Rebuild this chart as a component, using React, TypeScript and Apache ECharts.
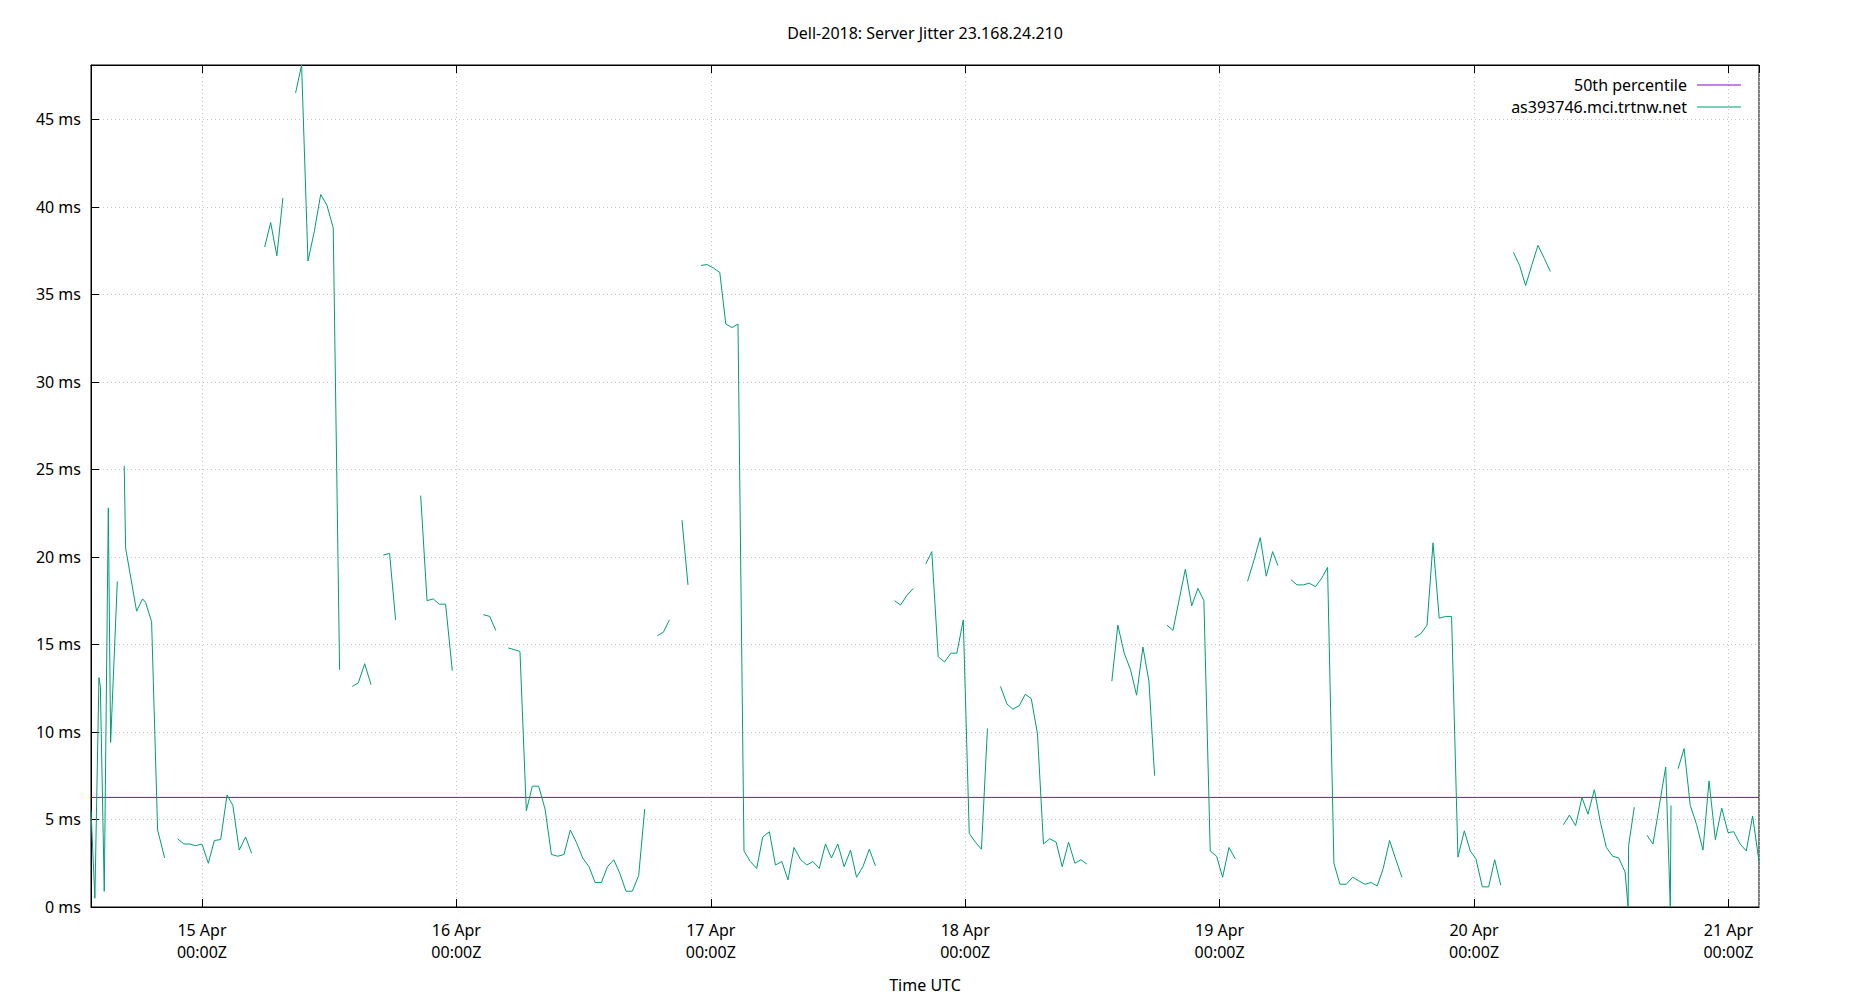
import React, { useEffect, useRef } from "react";
import * as echarts from "echarts";

const FONT = "Noto Sans";
const chartTitle = "Dell-2018: Server Jitter 23.168.24.210";
const xAxisTitle = "Time UTC";
const medianName = "50th percentile";
const hostName = "as393746.mci.trtnw.net";
const medianMs = 6.26;
const yStepMs = 5;
const yearPrefix = "2025-";
const monthNames = ["Jan", "Feb", "Mar", "Apr", "May", "Jun", "Jul", "Aug", "Sep", "Oct", "Nov", "Dec"];

// [time "MM-DD HH:mm" UTC, jitter ms] ; null = no data (line break)
const samples14Apr: [string, number | null][] = [
  ["04-14 13:32", 5.5], ["04-14 13:54", 0.5], ["04-14 14:17", 13.1], ["04-14 14:25", 12.6],
  ["04-14 14:47", 0.9], ["04-14 15:10", 22.8], ["04-14 15:23", 9.4], ["04-14 16:01", 18.6],
  ["04-14 16:20", null],
  ["04-14 16:40", 25.2], ["04-14 16:48", 20.5], ["04-14 17:50", 16.9], ["04-14 18:24", 17.6],
  ["04-14 18:41", 17.4], ["04-14 19:15", 16.3], ["04-14 19:49", 4.4], ["04-14 20:29", 2.8],
  ["04-14 21:05", null],
  ["04-14 21:42", 3.9], ["04-14 22:18", 3.6], ["04-14 22:52", 3.6], ["04-14 23:24", 3.5],
];

const samples15Apr: [string, number | null][] = [
  ["04-15 00:00", 3.6], ["04-15 00:36", 2.5], ["04-15 01:10", 3.8], ["04-15 01:46", 3.85],
  ["04-15 02:22", 6.4], ["04-15 02:55", 5.8], ["04-15 03:31", 3.25], ["04-15 04:07", 4.0],
  ["04-15 04:41", 3.07],
  ["04-15 05:18", null],
  ["04-15 05:55", 37.7], ["04-15 06:29", 39.1], ["04-15 07:04", 37.2], ["04-15 07:38", 40.5],
  ["04-15 08:14", null],
  ["04-15 08:50", 46.5], ["04-15 09:24", 48.1], ["04-15 10:00", 36.9], ["04-15 10:36", 38.6],
  ["04-15 11:12", 40.7], ["04-15 11:47", 40.1], ["04-15 12:23", 38.8], ["04-15 12:59", 13.55],
  ["04-15 13:35", null],
  ["04-15 14:11", 12.6], ["04-15 14:45", 12.8], ["04-15 15:21", 13.9], ["04-15 15:57", 12.7],
  ["04-15 16:31", null],
  ["04-15 17:06", 20.1], ["04-15 17:42", 20.2], ["04-15 18:16", 16.4],
  ["04-15 19:30", null],
  ["04-15 20:38", 23.5], ["04-15 21:14", 17.5], ["04-15 21:49", 17.6], ["04-15 22:23", 17.3],
  ["04-15 22:59", 17.3], ["04-15 23:37", 13.5],
];

const samples16Apr: [string, number | null][] = [
  ["04-16 01:00", null],
  ["04-16 02:33", 16.7], ["04-16 03:09", 16.6], ["04-16 03:43", 15.8],
  ["04-16 04:18", null],
  ["04-16 04:54", 14.8], ["04-16 05:28", 14.7], ["04-16 06:00", 14.6], ["04-16 06:36", 5.5],
  ["04-16 07:10", 6.9], ["04-16 07:46", 6.9], ["04-16 08:22", 5.6], ["04-16 08:58", 3.0],
  ["04-16 09:34", 2.9], ["04-16 10:09", 3.0], ["04-16 10:45", 4.4], ["04-16 11:19", 3.7],
  ["04-16 11:55", 2.8], ["04-16 12:31", 2.3], ["04-16 13:05", 1.4], ["04-16 13:41", 1.4],
  ["04-16 14:15", 2.3], ["04-16 14:51", 2.7], ["04-16 15:26", 1.9], ["04-16 16:00", 0.9],
  ["04-16 16:36", 0.9], ["04-16 17:12", 1.8], ["04-16 17:46", 5.6],
  ["04-16 18:22", null],
  ["04-16 18:58", 15.5], ["04-16 19:32", 15.7], ["04-16 20:06", 16.4],
  ["04-16 20:41", null],
  ["04-16 21:17", 22.1], ["04-16 21:51", 18.4],
  ["04-16 22:28", null],
  ["04-16 23:05", 36.65], ["04-16 23:39", 36.7],
];

const samples17Apr: [string, number | null][] = [
  ["04-17 00:15", 36.5], ["04-17 00:51", 36.25], ["04-17 01:25", 33.3], ["04-17 02:00", 33.1],
  ["04-17 02:34", 33.3], ["04-17 03:08", 3.2], ["04-17 03:44", 2.6], ["04-17 04:20", 2.2],
  ["04-17 04:54", 4.0], ["04-17 05:32", 4.3], ["04-17 06:06", 2.4], ["04-17 06:42", 2.6],
  ["04-17 07:17", 1.55], ["04-17 07:51", 3.4], ["04-17 08:29", 2.7], ["04-17 09:04", 2.4],
  ["04-17 09:38", 2.6], ["04-17 10:14", 2.2], ["04-17 10:49", 3.6], ["04-17 11:23", 2.8],
  ["04-17 11:59", 3.6], ["04-17 12:35", 2.3], ["04-17 13:11", 3.25], ["04-17 13:45", 1.7],
  ["04-17 14:21", 2.3], ["04-17 14:57", 3.3], ["04-17 15:32", 2.35],
  ["04-17 16:30", null],
  ["04-17 17:20", 17.5], ["04-17 17:54", 17.25], ["04-17 18:30", 17.8], ["04-17 19:06", 18.2],
  ["04-17 19:41", null],
  ["04-17 20:17", 19.6], ["04-17 20:51", 20.3], ["04-17 21:27", 14.3], ["04-17 22:03", 14.0],
  ["04-17 22:39", 14.5], ["04-17 23:13", 14.5], ["04-17 23:49", 16.4],
];

const samples18Apr: [string, number | null][] = [
  ["04-18 00:23", 4.2], ["04-18 00:58", 3.7], ["04-18 01:32", 3.3], ["04-18 02:06", 10.2],
  ["04-18 02:43", null],
  ["04-18 03:20", 12.6], ["04-18 03:56", 11.6], ["04-18 04:30", 11.3], ["04-18 05:06", 11.5],
  ["04-18 05:40", 12.15], ["04-18 06:14", 11.9], ["04-18 06:49", 9.9], ["04-18 07:23", 3.6],
  ["04-18 07:59", 3.9], ["04-18 08:35", 3.7], ["04-18 09:09", 2.3], ["04-18 09:45", 3.7],
  ["04-18 10:21", 2.5], ["04-18 10:55", 2.7], ["04-18 11:29", 2.45],
  ["04-18 12:40", null],
  ["04-18 13:50", 12.9], ["04-18 14:24", 16.1], ["04-18 15:00", 14.5], ["04-18 15:36", 13.55],
  ["04-18 16:10", 12.1], ["04-18 16:46", 14.85], ["04-18 17:20", 12.9], ["04-18 17:52", 7.5],
  ["04-18 18:27", null],
  ["04-18 19:02", 16.1], ["04-18 19:36", 15.8], ["04-18 20:12", 17.6], ["04-18 20:46", 19.3],
  ["04-18 21:22", 17.2], ["04-18 21:57", 18.2], ["04-18 22:31", 17.5], ["04-18 23:07", 3.2],
  ["04-18 23:43", 2.9],
];

const samples19Apr: [string, number | null][] = [
  ["04-19 00:17", 1.7], ["04-19 00:53", 3.4], ["04-19 01:29", 2.75],
  ["04-19 02:03", null],
  ["04-19 02:38", 18.6], ["04-19 03:14", 19.8], ["04-19 03:50", 21.1], ["04-19 04:24", 18.9],
  ["04-19 05:00", 20.3], ["04-19 05:30", 19.5],
  ["04-19 06:07", null],
  ["04-19 06:44", 18.7], ["04-19 07:18", 18.4], ["04-19 07:54", 18.4], ["04-19 08:27", 18.5],
  ["04-19 09:03", 18.3], ["04-19 09:39", 18.8], ["04-19 10:11", 19.4], ["04-19 10:47", 2.5],
  ["04-19 11:21", 1.3], ["04-19 11:57", 1.3], ["04-19 12:33", 1.7], ["04-19 13:07", 1.5],
  ["04-19 13:43", 1.3], ["04-19 14:17", 1.4], ["04-19 14:52", 1.2], ["04-19 15:26", 2.2],
  ["04-19 16:02", 3.8], ["04-19 16:38", 2.7], ["04-19 17:12", 1.7],
  ["04-19 17:48", null],
  ["04-19 18:24", 15.4], ["04-19 18:58", 15.6], ["04-19 19:34", 16.1], ["04-19 20:08", 20.8],
  ["04-19 20:43", 16.5], ["04-19 21:19", 16.6], ["04-19 21:53", 16.6], ["04-19 22:29", 2.85],
  ["04-19 23:05", 4.35], ["04-19 23:39", 3.2],
];

const samples20Apr: [string, number | null][] = [
  ["04-20 00:11", 2.75], ["04-20 00:47", 1.15], ["04-20 01:23", 1.15], ["04-20 01:57", 2.7],
  ["04-20 02:31", 1.25],
  ["04-20 03:07", null],
  ["04-20 03:43", 37.4], ["04-20 04:18", 36.65], ["04-20 04:52", 35.5], ["04-20 05:28", 36.7],
  ["04-20 06:02", 37.8], ["04-20 06:38", 37.05], ["04-20 07:12", 36.3],
  ["04-20 07:49", null],
  ["04-20 08:26", 4.7], ["04-20 09:00", 5.25], ["04-20 09:35", 4.65], ["04-20 10:11", 6.25],
  ["04-20 10:45", 5.3], ["04-20 11:21", 6.7], ["04-20 11:55", 4.85], ["04-20 12:29", 3.4],
  ["04-20 13:05", 2.9], ["04-20 13:39", 2.8], ["04-20 14:15", 2.0], ["04-20 14:32", 0.0],
  ["04-20 14:35", 3.5], ["04-20 15:07", 5.7],
  ["04-20 15:43", null],
  ["04-20 16:19", 4.1], ["04-20 16:53", 3.6], ["04-20 17:29", 5.8], ["04-20 18:05", 8.0],
  ["04-20 18:31", 0.0], ["04-20 18:35", 5.8],
  ["04-20 18:55", null],
  ["04-20 19:15", 7.9], ["04-20 19:49", 9.05], ["04-20 20:24", 5.8], ["04-20 21:00", 4.7],
  ["04-20 21:36", 3.25], ["04-20 22:10", 7.2], ["04-20 22:46", 3.85], ["04-20 23:22", 5.65],
  ["04-20 23:58", 4.25],
];

const samples21Apr: [string, number | null][] = [
  ["04-21 00:30", 4.3], ["04-21 01:06", 3.6], ["04-21 01:41", 3.2], ["04-21 02:17", 5.2],
  ["04-21 02:53", 2.6],
];

const toMs = (t: string) => Date.parse(yearPrefix + t.replace(" ", "T") + ":00Z");

export default function App() {
  const ref = useRef<HTMLDivElement>(null);

  useEffect(() => {
    if (!ref.current) return;
    const chart = echarts.init(ref.current, null, { renderer: "svg" });

    const all = [
      ...samples14Apr, ...samples15Apr, ...samples16Apr, ...samples17Apr,
      ...samples18Apr, ...samples19Apr, ...samples20Apr, ...samples21Apr,
    ];
    const jitterData = all.map(([t, v]) => [toMs(t), v]);
    const tMin = toMs(all[0][0]);
    const tMax = toMs(all[all.length - 1][0]);
    const DAY = 24 * 3600 * 1000;

    const textBase = { fontFamily: FONT, fontSize: 16, color: "#000" };
    const lineIcon = "path://M0,0H44V1.2H0Z";

    const xLabelFormatter = (value: number) => {
      const d = new Date(value);
      if (d.getUTCHours() !== 0 || d.getUTCMinutes() !== 0) return "";
      const hh = String(d.getUTCHours()).padStart(2, "0");
      const mm = String(d.getUTCMinutes()).padStart(2, "0");
      return `${d.getUTCDate()} ${monthNames[d.getUTCMonth()]}\n${hh}:${mm}Z`;
    };

    const option: any = {
      animation: false,
      useUTC: true,
      backgroundColor: "#fff",
      textStyle: { fontFamily: FONT },
      title: {
        text: chartTitle,
        left: "center",
        top: 20,
        textStyle: { ...textBase, fontWeight: "normal" },
      },
      legend: {
        orient: "vertical",
        align: "right",
        right: 109,
        top: 77,
        padding: 0,
        itemGap: 6,
        itemWidth: 44,
        itemHeight: 14,
        symbolKeepAspect: true,
        textStyle: { ...textBase, padding: [0, 5, 0, 0] },
        data: [
          { name: medianName, icon: lineIcon },
          { name: hostName, icon: lineIcon },
        ],
      },
      grid: {
        left: 91,
        right: 91,
        top: 65,
        bottom: 93,
        show: true,
        borderColor: "#000",
        borderWidth: 1,
        backgroundColor: "transparent",
      },
      xAxis: [
        {
          type: "time",
          position: "bottom",
          min: tMin,
          max: tMax,
          minInterval: DAY,
          maxInterval: DAY,
          name: xAxisTitle,
          nameLocation: "middle",
          nameGap: 70,
          nameTextStyle: textBase,
          axisLine: { show: true, lineStyle: { color: "#000", width: 1 } },
          axisTick: { show: true, inside: true, length: 8, lineStyle: { color: "#000" } },
          axisLabel: {
            ...textBase,
            lineHeight: 22,
            margin: 12,
            showMinLabel: false,
            showMaxLabel: false,
            hideOverlap: false,
            formatter: xLabelFormatter,
          },
          splitLine: { show: true, lineStyle: { color: "#c4c4c4", type: [1, 3], width: 1 } },
        },
        {
          type: "time",
          position: "top",
          min: tMin,
          max: tMax,
          minInterval: DAY,
          maxInterval: DAY,
          axisLine: { show: true, lineStyle: { color: "#000", width: 1 } },
          axisTick: { show: true, inside: true, length: 8, lineStyle: { color: "#000" } },
          axisLabel: { show: false },
          splitLine: { show: false },
        },
      ],
      yAxis: {
        type: "value",
        min: 0,
        max: "dataMax",
        interval: yStepMs,
        axisLine: { show: true, lineStyle: { color: "#000", width: 1 } },
        axisTick: { show: true, inside: true, length: 8, lineStyle: { color: "#000" } },
        axisLabel: {
          ...textBase,
          margin: 10,
          showMaxLabel: false,
          formatter: (v: number) => (Math.abs(v % yStepMs) < 1e-9 ? `${v} ms` : ""),
        },
        splitLine: { show: true, lineStyle: { color: "#c4c4c4", type: [1, 3], width: 1 } },
      },
      series: [
        {
          name: medianName,
          type: "line",
          xAxisIndex: 0,
          symbol: "none",
          lineStyle: { color: "#9400d3", width: 1 },
          itemStyle: { color: "#9400d3" },
          data: [
            [tMin, medianMs],
            [tMax, medianMs],
          ],
        },
        {
          name: hostName,
          type: "line",
          xAxisIndex: 0,
          symbol: "none",
          connectNulls: false,
          lineStyle: { color: "#009e73", width: 1 },
          itemStyle: { color: "#009e73" },
          data: jitterData,
        },
      ],
    };

    chart.setOption(option);
    return () => chart.dispose();
  }, []);

  return (
    <div
      ref={ref}
      style={{ position: "fixed", left: 0, top: 0, width: 1850, height: 1000, background: "#fff" }}
    />
  );
}
